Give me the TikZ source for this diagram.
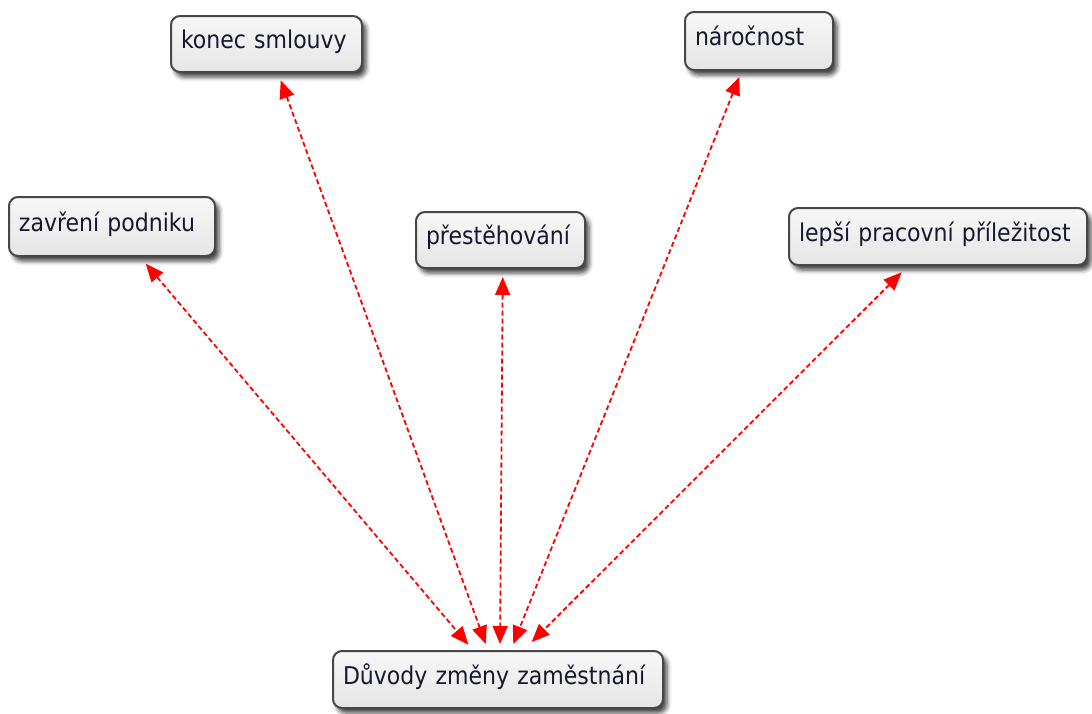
\documentclass[tikz,border=0pt]{standalone}
\usepackage{fontspec}
\setmainfont{DejaVu Sans Condensed}
\usetikzlibrary{arrows.meta,shadows.blur}
\definecolor{boxtext}{RGB}{24,24,44}
\begin{document}
\begin{tikzpicture}[x=1pt,y=-1pt,
  box/.style={draw=black!72, line width=2pt, rounded corners=9pt,
    top color=black!3, bottom color=black!10,
    blur shadow={shadow xshift=4pt, shadow yshift=-5pt, shadow blur radius=4.5pt, shadow opacity=75},
    inner xsep=10pt, align=left, text=boxtext,
    text height=17pt, text depth=8pt,
    font=\fontsize{24.5}{28}\selectfont},
  link/.style={draw=red, line width=1.8pt, dash pattern=on 5pt off 3pt,
    {Triangle[length=18pt,width=15pt]}-{Triangle[length=18pt,width=15pt]}}
]
\useasboundingbox (0,0) rectangle (1092,713);

% topic boxes
\node[box, text width=171pt, minimum height=56pt] (konec)  at (266.5,44)  {konec smlouvy};
\node[box, text width=128pt, minimum height=58pt] (naroc)  at (759,41)    {náročnost};
\node[box, text width=186pt, minimum height=59pt] (zavr)   at (112,226.5) {zavření podniku};
\node[box, text width=149pt, minimum height=56pt] (prest)  at (500.5,240) {přestěhování};
\node[box, text width=278pt, minimum height=57pt] (lepsi)  at (938,236.5) {lepší pracovní příležitost};
\node[box, text width=310pt, minimum height=57pt] (duvody) at (498,679.5) {Důvody změny zaměstnání};

% connectors, each with a tip at both ends
\draw[link, shorten <=7.8pt, shorten >=6.4pt]
  ([xshift=11.6pt]konec.south) -- ([xshift=-10.1pt]duvody.north);
\draw[link, shorten <=6.5pt, shorten >=6.5pt]
  ([xshift=-17.3pt]naroc.south) -- ([xshift=12.9pt]duvody.north);
\draw[link, shorten <=8.8pt, shorten >=6.9pt]
  ([xshift=28.1pt]zavr.south) -- ([xshift=-25.2pt]duvody.north);
\draw[link, shorten <=8pt, shorten >=6pt]
  ([xshift=2.3pt]prest.south) -- ([xshift=2pt]duvody.north);
\draw[link, shorten <=8.9pt, shorten >=11.3pt]
  ([xshift=-30pt]lepsi.south) -- ([xshift=25.7pt]duvody.north);
\end{tikzpicture}
\end{document}
